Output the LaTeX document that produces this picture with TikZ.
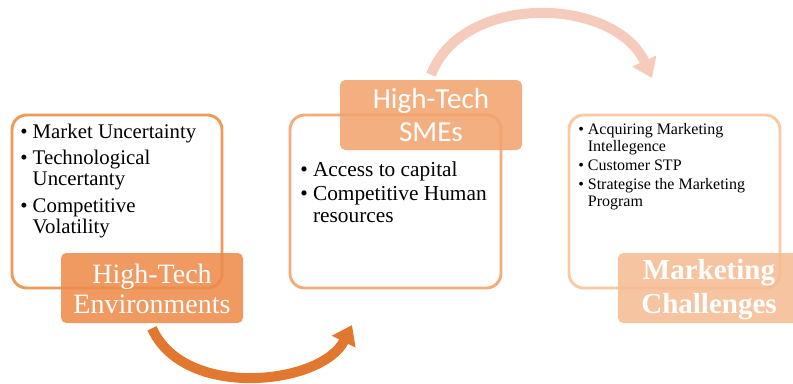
\documentclass[tikz,border=0pt]{standalone}
\usepackage{fontspec}
\setmainfont{Liberation Serif}
\newfontfamily\tagsans{Carlito}
\usetikzlibrary{arrows.meta,fit}

\definecolor{envline}{HTML}{F09A58}
\definecolor{envfill}{HTML}{EE8B4A}
\definecolor{smeline}{HTML}{F4AC7A}
\definecolor{smefill}{HTML}{F2A46E}
\definecolor{challine}{HTML}{F9C9A6}
\definecolor{chalfill}{HTML}{F5BC93}
\definecolor{lowarrow}{HTML}{E2782F}
\definecolor{higharrow}{HTML}{F5CBBC}

\newcommand\blt{\textbullet\ }
\newcommand\hng{\phantom{\textbullet\ }}

\begin{document}
\begin{tikzpicture}[x=.75pt, y=-.75pt,
  frame/.style = {draw, line width=2.2pt, rounded corners=11pt, inner sep=0pt},
  tag/.style = {fill opacity=.88, rounded corners=4pt, inner sep=0pt},
  title/.style = {text=white, align=center, inner sep=0pt},
  items/.style = {align=left, anchor=base west, inner sep=0pt},
  swoop/.style = {line width=7.5pt, -{Triangle[length=14pt,width=19pt]}}
]
\useasboundingbox (0,0) rectangle (793,383);

% outlines
\node [frame, envline, fit={(12,115) (222,288)}] (envframe) {};
\node [frame, smeline, fit={(290,115) (501,288)}] (smeframe) {};
\node [frame, challine, fit={(569,115) (780,288)}] (chalframe) {};

% headings
\node [tag, fill=envfill, fit={(61,253) (243,323)}] (envtag) {};
\node [tag, fill=smefill, fit={(340,80) (522,150)}] (smetag) {};
\node [tag, fill=chalfill, fit={(618,253) (800,323)}] (chaltag) {};
\node [title, font=\fontsize{21}{22.5}\selectfont] (envtitle) at ([yshift=-1pt]envtag.center) {High-Tech\\Environments};
\node [title, font=\tagsans\fontsize{21.8}{24.75}\selectfont] (smetitle) at (smetag.center) {High-Tech\\SMEs};
\node [title, font=\bfseries\fontsize{21.75}{25.5}\selectfont] (chaltitle) at ([yshift=-1pt]chaltag.center) {Marketing\\Challenges};

% bullet lists (anchored on their last line)
\node [items, font=\fontsize{15.6}{15.75}\selectfont] (envlist) at (20,233)
  {\blt Market Uncertainty\\[4pt]
   \blt Technological\\
   \hng Uncertanty\\[4pt]
   \blt Competitive\\
   \hng Volatility};
\node [items, font=\fontsize{16}{16.5}\selectfont] (smelist) at (300,222)
  {\blt Access to capital\\[1.5pt]
   \blt Competitive Human\\
   \hng resources};
\node [items, font=\fontsize{12}{12.75}\selectfont] (challist) at (578,206)
  {\blt Acquiring Marketing\\
   \hng Intellegence\\[1.5pt]
   \blt Customer STP\\[1.5pt]
   \blt Strategise the Marketing\\
   \hng Program};

% curved arrows
\coordinate (smeend) at (352,325);
\coordinate (chalend) at (652,78);
\draw [swoop, lowarrow] ([yshift=-3.75pt]envtag.south) .. controls +(32,72) and +(-30,60) .. (smeend);
\draw [swoop, higharrow] ([yshift=3.75pt]smetag.north) .. controls +(32,-83) and +(-37,-81) .. (chalend);
\end{tikzpicture}
\end{document}
